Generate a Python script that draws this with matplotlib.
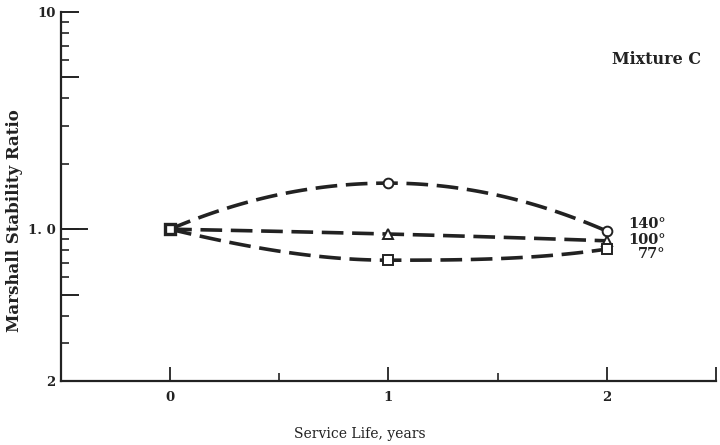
import numpy as np
import matplotlib.pyplot as plt
from matplotlib.ticker import FixedLocator, NullFormatter

# data
years = [0, 1, 2]
ratio_140 = [1.0, 1.63, 0.98]
ratio_100 = [1.0, 0.95, 0.884]
ratio_77 = [1.0, 0.72, 0.81]
series_labels = ['140°', '100°', '77°']
series_markers = ['o', '^', 's']

ink = '#222222'


def smooth_curve(x, y, n=120):
    # monotone cubic hermite (pchip style) through the points, in log space
    x = np.asarray(x, float)
    y = np.log10(np.asarray(y, float))
    h = np.diff(x)
    d = np.diff(y) / h
    m = np.zeros_like(y)
    for k in range(1, len(x) - 1):
        if d[k - 1] * d[k] <= 0:
            m[k] = 0.0
        else:
            m[k] = 2.0 / (1.0 / d[k - 1] + 1.0 / d[k])
    m[0] = ((2 * h[0] + h[1]) * d[0] - h[0] * d[1]) / (h[0] + h[1])
    m[-1] = ((2 * h[-1] + h[-2]) * d[-1] - h[-1] * d[-2]) / (h[-1] + h[-2])
    xs = np.linspace(x[0], x[-1], n)
    ys = np.empty_like(xs)
    for i, xv in enumerate(xs):
        k = min(np.searchsorted(x, xv, side='right') - 1, len(x) - 2)
        t = (xv - x[k]) / h[k]
        h00 = 2 * t**3 - 3 * t**2 + 1
        h10 = t**3 - 2 * t**2 + t
        h01 = -2 * t**3 + 3 * t**2
        h11 = t**3 - t**2
        ys[i] = h00 * y[k] + h10 * h[k] * m[k] + h01 * y[k + 1] + h11 * h[k] * m[k + 1]
    return xs, 10 ** ys


fig = plt.figure(figsize=(7.2, 4.45), dpi=100)
ax = fig.add_axes([0.0847, 0.1438, 0.9097, 0.8292])

ax.set_yscale('log')
ax.set_ylim(0.2, 10)
ax.set_xlim(-0.5, 2.5)

for vals, mk in zip([ratio_140, ratio_100, ratio_77], series_markers):
    xs, ys = smooth_curve(years, vals)
    ax.plot(xs, ys, color=ink, lw=2.6, dashes=(6, 2.4),
            dash_capstyle='butt')
    ax.plot(years[1:], vals[1:], ls='none', marker=mk, ms=7, mfc='white',
            mec=ink, mew=1.4)
ax.plot(years[0], ratio_140[0], ls='none', marker='s', ms=7, mfc='white',
        mec=ink, mew=2.4)

# temperature labels
label_y = [1.054, 0.89, 0.77]
for ly, txt in zip(label_y, series_labels):
    ax.text(2.27, ly, txt, fontsize=10.5, fontweight='bold',
            family='DejaVu Serif', color=ink, va='center', ha='right')

ax.text(0.91, 0.87, 'Mixture C', transform=ax.transAxes, fontsize=11.5,
        fontweight='bold', family='DejaVu Serif', color=ink, ha='center',
        va='center')

# spines
for s in ['top', 'right']:
    ax.spines[s].set_visible(False)
for s in ['left', 'bottom']:
    ax.spines[s].set_linewidth(1.6)
    ax.spines[s].set_color(ink)

# y ticks
ax.yaxis.set_major_locator(FixedLocator([0.2, 0.5, 1.0, 5, 10]))
ax.set_yticklabels(['2', '', '1. 0', '', '10'])
ax.yaxis.set_minor_locator(FixedLocator([0.3, 0.4, 0.6, 0.7, 0.8, 0.9,
                                         2, 3, 4, 6, 7, 8, 9]))
ax.yaxis.set_minor_formatter(NullFormatter())
ax.tick_params(axis='y', which='major', direction='in', length=13, width=1.4,
               color=ink, pad=4)
ax.tick_params(axis='y', which='minor', direction='in', length=6, width=1.2,
               color=ink)
ax.axhline(1.0, xmin=0, xmax=0.04, color=ink, lw=1.4)

# x ticks
ax.xaxis.set_major_locator(FixedLocator([0, 1, 2, 2.5]))
ax.set_xticklabels(['0', '1', '2', ''])
ax.xaxis.set_minor_locator(FixedLocator([0.5, 1.5]))
ax.tick_params(axis='x', which='major', direction='in', length=10, width=1.3,
               color=ink, pad=7)
ax.tick_params(axis='x', which='minor', direction='in', length=6, width=1.2,
               color=ink)

for lbl in ax.get_yticklabels() + ax.get_xticklabels():
    lbl.set_family('DejaVu Serif')
    lbl.set_fontweight('bold')
    lbl.set_fontsize(9.5)
    lbl.set_color(ink)

ax.set_xlabel('Service Life, years', family='DejaVu Serif', fontsize=10,
              color=ink)
ax.xaxis.set_label_coords(0.456, -0.125)
ax.set_ylabel('Marshall Stability Ratio', family='DejaVu Serif', fontsize=12,
              fontweight='bold', color=ink)
ax.yaxis.set_label_coords(-0.058, 0.436)

fig.savefig('out.png', dpi=100)
